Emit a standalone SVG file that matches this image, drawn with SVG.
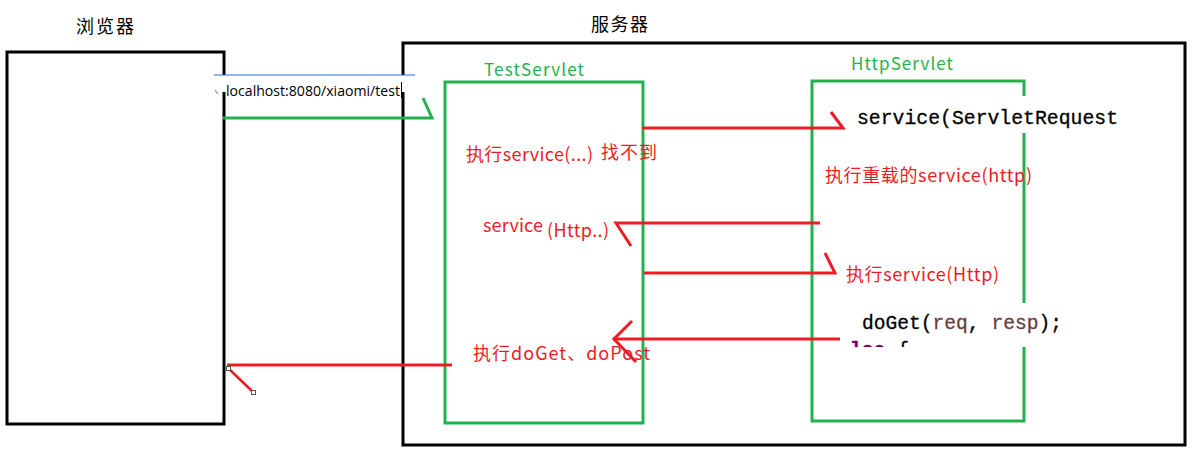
<svg xmlns="http://www.w3.org/2000/svg" width="1195" height="454" viewBox="0 0 1195 454">
<style>
.blk{fill:none;stroke:#000;stroke-width:3}
.grn{fill:none;stroke:#22b14c;stroke-width:3}
.red{fill:none;stroke:#ed1c24;stroke-width:3}
.rt{fill:#ed1c24;font-family:"Microsoft YaHei","Noto Sans CJK SC","Noto Sans",sans-serif;font-size:18px}
.gt{fill:#22b14c;font-family:"Microsoft YaHei","Noto Sans CJK SC","Noto Sans",sans-serif;font-size:17px}
.bt{fill:#000;font-family:"Microsoft YaHei","Noto Sans CJK SC",sans-serif;font-size:18px}
.code{font-family:"Liberation Mono","DejaVu Sans Mono",monospace;font-size:20px;fill:#000;stroke:currentColor;stroke-width:0.3}
</style>
<defs>
<clipPath id="clipElse"><rect x="840" y="330" width="240" height="17"/></clipPath>
</defs>
<rect width="1195" height="454" fill="#fff"/>

<g id="browser">
<rect class="blk" x="7" y="52" width="217" height="372"/>
<text class="bt" x="76" y="33" textLength="58">浏览器</text>
</g>

<g id="server">
<rect class="blk" x="403" y="43" width="782" height="402"/>
<text class="bt" x="591" y="31" textLength="57">服务器</text>
</g>

<g id="testservlet">
<rect class="grn" x="445" y="82" width="198" height="341"/>
<text class="gt" x="484" y="76" textLength="100">TestServlet</text>
</g>

<g id="httpservlet">
<rect class="grn" x="812" y="81" width="212" height="340"/>
<text class="gt" x="851" y="70" textLength="102">HttpServlet</text>
<rect x="850" y="96" width="275" height="37" fill="#fff"/>
<text class="code" x="857" y="124" textLength="261" lengthAdjust="spacingAndGlyphs" color="#000">service(ServletRequest</text>
<rect x="850" y="303" width="215" height="44" fill="#fff"/>
<text class="code" x="862" y="329" textLength="200" lengthAdjust="spacingAndGlyphs" color="#000">doGet(<tspan fill="#6a3e3e" color="#6a3e3e">req</tspan>, <tspan fill="#6a3e3e" color="#6a3e3e">resp</tspan>);</text>
<g clip-path="url(#clipElse)">
<text class="code" x="850" y="356" textLength="59" lengthAdjust="spacingAndGlyphs" color="#000"><tspan fill="#7f0055" color="#7f0055" font-weight="bold">lse</tspan> {</text>
</g>
</g>

<g id="url">
<rect x="214" y="75" width="201" height="17" fill="#fff"/>
<line x1="214" y1="75" x2="415" y2="75" stroke="#1a73c8" stroke-width="1"/>
<text x="226" y="96" font-family="'Segoe UI','Open Sans','Liberation Sans',sans-serif" font-size="15" fill="#000" textLength="174" lengthAdjust="spacingAndGlyphs">localhost:8080/xiaomi/test</text>
<line x1="401.5" y1="82" x2="401.5" y2="98" stroke="#000" stroke-width="1"/>
<line x1="215" y1="90" x2="218" y2="94" stroke="#aaa" stroke-width="1.5"/>
</g>

<g id="connectors">
<polyline class="grn" points="223,118 432,118 423,98"/>
<polyline class="red" points="642,128 843,128 831,112"/>
<polyline class="red" points="820,223 616,223 631,246"/>
<polyline class="red" points="644,273 835,273 825,253"/>
<polyline class="red" points="840,339 613,339"/>
<polyline class="red" points="632,321 614,339 636,362"/>
<line class="red" x1="452" y1="365" x2="227" y2="365"/>
<line x1="228" y1="368" x2="253" y2="392" stroke="#ed1c24" stroke-width="2.5"/>
<rect x="226.5" y="366.5" width="4" height="4" fill="#fff" stroke="#555" stroke-width="1"/>
<rect x="251.5" y="390.5" width="4" height="4" fill="#fff" stroke="#555" stroke-width="1"/>
</g>

<g id="labels">
<text class="rt" x="466" y="161" textLength="127">执行service(...)</text>
<text class="rt" x="601" y="159" textLength="56">找不到</text>
<text class="rt" x="483" y="232" textLength="60">service</text>
<text class="rt" x="547" y="237" textLength="62">(Http..)</text>
<text class="rt" x="825" y="182" textLength="207">执行重载的service(http)</text>
<text class="rt" x="846" y="281" textLength="153">执行service(Http)</text>
<text class="rt" x="473" y="360" textLength="177">执行doGet、doPost</text>
</g>
</svg>
